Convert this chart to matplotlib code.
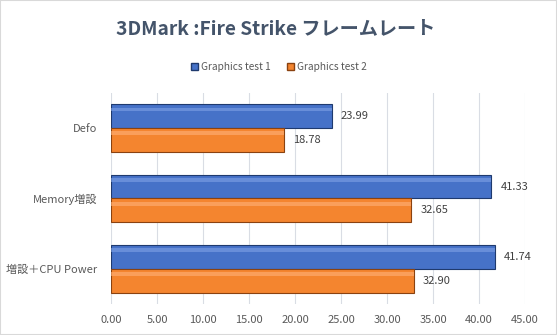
import matplotlib
matplotlib.use('Agg')
import matplotlib.pyplot as plt
import matplotlib.patches as mpatches
import numpy as np

plt.rcParams['font.family'] = ['Noto Sans CJK JP', 'DejaVu Sans']

categories = ['Defo', 'Memory増設', '増設＋CPU Power']
test1 = [23.99, 41.33, 41.74]
test2 = [18.78, 32.65, 32.90]
series_names = ['Graphics test 1', 'Graphics test 2']
xticks = [0, 5, 10, 15, 20, 25, 30, 35, 40, 45]

blue, blue_dark, blue_light = '#4672c8', '#1f3a6e', '#7fa2e6'
orange, orange_dark, orange_light = '#f4852f', '#8a4210', '#ffb27a'
text_col = '#595959'

fig = plt.figure(figsize=(5.57, 3.35), dpi=100)
ax = fig.add_axes([0.1993, 0.0925, 0.7432, 0.63])

y = np.arange(len(categories))
h = 0.34

for vals, off, c, cd, cl in [(test1, -h / 2, blue, blue_dark, blue_light),
                             (test2, h / 2, orange, orange_dark, orange_light)]:
    ax.barh(y + off, vals, height=h, color=c, edgecolor=cd, linewidth=0.8, zorder=2)
    # bevel highlight strip near the top of each bar
    ax.barh(y + off - h * 0.28, vals, height=h * 0.16, color=cl, linewidth=0,
            alpha=0.6, zorder=3)
    for yi, v in zip(y + off, vals):
        ax.text(v + 1.0, yi, f'{v:.2f}', va='center', ha='left', fontsize=8,
                color='#404040')

ax.set_xlim(0, 45)
ax.set_ylim(len(categories) - 0.5, -0.5)
ax.set_xticks(xticks)
ax.set_xticklabels([f'{t:.2f}' for t in xticks], fontsize=8, color=text_col)
ax.set_yticks(y)
ax.set_yticklabels(categories, fontsize=8, color=text_col)
ax.tick_params(length=0, pad=8)
ax.tick_params(axis='y', pad=10)
ax.grid(axis='x', color='#d9dde4', linewidth=0.8, zorder=0)
for s in ax.spines.values():
    s.set_visible(False)

fig.text(0.495, 0.915, '3DMark :Fire Strike フレームレート', ha='center', va='center',
         fontsize=13.8, fontweight='bold', color='#44546a')

handles = [mpatches.Patch(facecolor=blue, edgecolor=blue_dark, label=series_names[0]),
           mpatches.Patch(facecolor=orange, edgecolor=orange_dark, label=series_names[1])]
leg = fig.legend(handles=handles, loc='center', bbox_to_anchor=(0.5, 0.80), ncol=2,
                 frameon=False, fontsize=7.3, handlelength=0.7, handleheight=0.7,
                 handletextpad=0.3, columnspacing=1.6)
for t in leg.get_texts():
    t.set_color(text_col)

# chart border
fig.patches.append(mpatches.Rectangle((0, 0), 1, 1, transform=fig.transFigure,
                                      fill=False, edgecolor='#d9d9d9', linewidth=1.5))

fig.savefig('out.png', dpi=100)
